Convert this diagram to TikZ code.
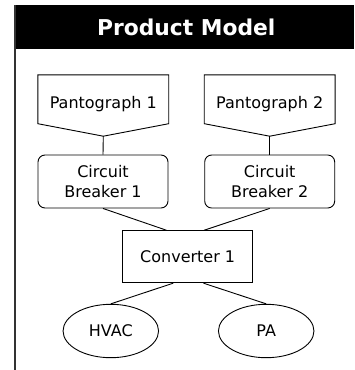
\documentclass[tikz,border=0pt]{standalone}
\usepackage{fontspec}
\setmainfont{DejaVu Sans}
\usetikzlibrary{shapes.geometric,calc}

\tikzset{
  body/.style={font=\fontsize{16}{20.7}\selectfont, text=black},
  pshape/.style={draw=none, inner sep=0pt, minimum width=130.5pt, minimum height=48.5pt},
  cbbox/.style={body, draw=black, line width=0.9pt, rounded corners=7pt, inner sep=0pt,
    minimum width=130pt, minimum height=53pt, align=center},
  convbox/.style={body, draw=black, line width=0.9pt, inner sep=0pt,
    minimum width=130pt, minimum height=52pt},
  loadell/.style={body, ellipse, draw=black, line width=0.9pt, inner sep=0pt,
    minimum width=95.5pt, minimum height=53.4pt},
  link/.style={draw=black, line width=0.9pt},
  outline/.style={draw=black, line width=0.9pt},
}

\begin{document}
\begin{tikzpicture}[x=1pt, y=-1pt]
  \useasboundingbox (0,0) rectangle (354,370);

  % frame with black title bar
  \fill[black] (15,5) rectangle (354,49);
  \draw[black!80, line width=1.3pt] (15,5) -- (15,370);
  \node[font=\fontsize{21.8}{26}\selectfont\bfseries, text=white] (title) at (186.3,27.5) {Product Model};

  % pantographs (pentagon pointing down)
  \node[pshape] (p1) at (103.3,99.25) {};
  \coordinate (p1tip) at ($(p1.south)+(0,12.5)$);
  \draw[outline] (p1.north west) -- (p1.north east) -- (p1.south east) -- (p1tip) -- (p1.south west) -- cycle;
  \node[body] (p1label) at ($(p1)+(0,4.8)$) {Pantograph 1};

  \node[pshape] (p2) at (269.7,99.25) {};
  \coordinate (p2tip) at ($(p2.south)+(0,12.5)$);
  \draw[outline] (p2.north west) -- (p2.north east) -- (p2.south east) -- (p2tip) -- (p2.south west) -- cycle;
  \node[body] (p2label) at ($(p2)+(0,4.8)$) {Pantograph 2};

  % circuit breakers
  \node[cbbox] (cb1) at (103,181.5) {Circuit\\Breaker 1};
  \node[cbbox] (cb2) at (269.7,181.5) {Circuit\\Breaker 2};

  % converter
  \node[convbox] (conv) at (187.7,256.7) {Converter 1};

  % loads
  \node[loadell] (hvac) at (110.8,331) {HVAC};
  \node[loadell] (pa) at (266.2,331) {PA};

  % connections
  \draw[link] (p1tip) -- (cb1.north);
  \draw[link] (p2tip) -- (cb2.north);
  \draw[link] (cb1.south) -- ($(conv.north west)!0.338!(conv.north east)$);
  \draw[link] (cb2.south) -- ($(conv.north west)!0.625!(conv.north east)$);
  \draw[link] ($(conv.south west)!0.39!(conv.south east)$) -- (hvac.north);
  \draw[link] ($(conv.south west)!0.62!(conv.south east)$) -- (pa.north);
\end{tikzpicture}
\end{document}
